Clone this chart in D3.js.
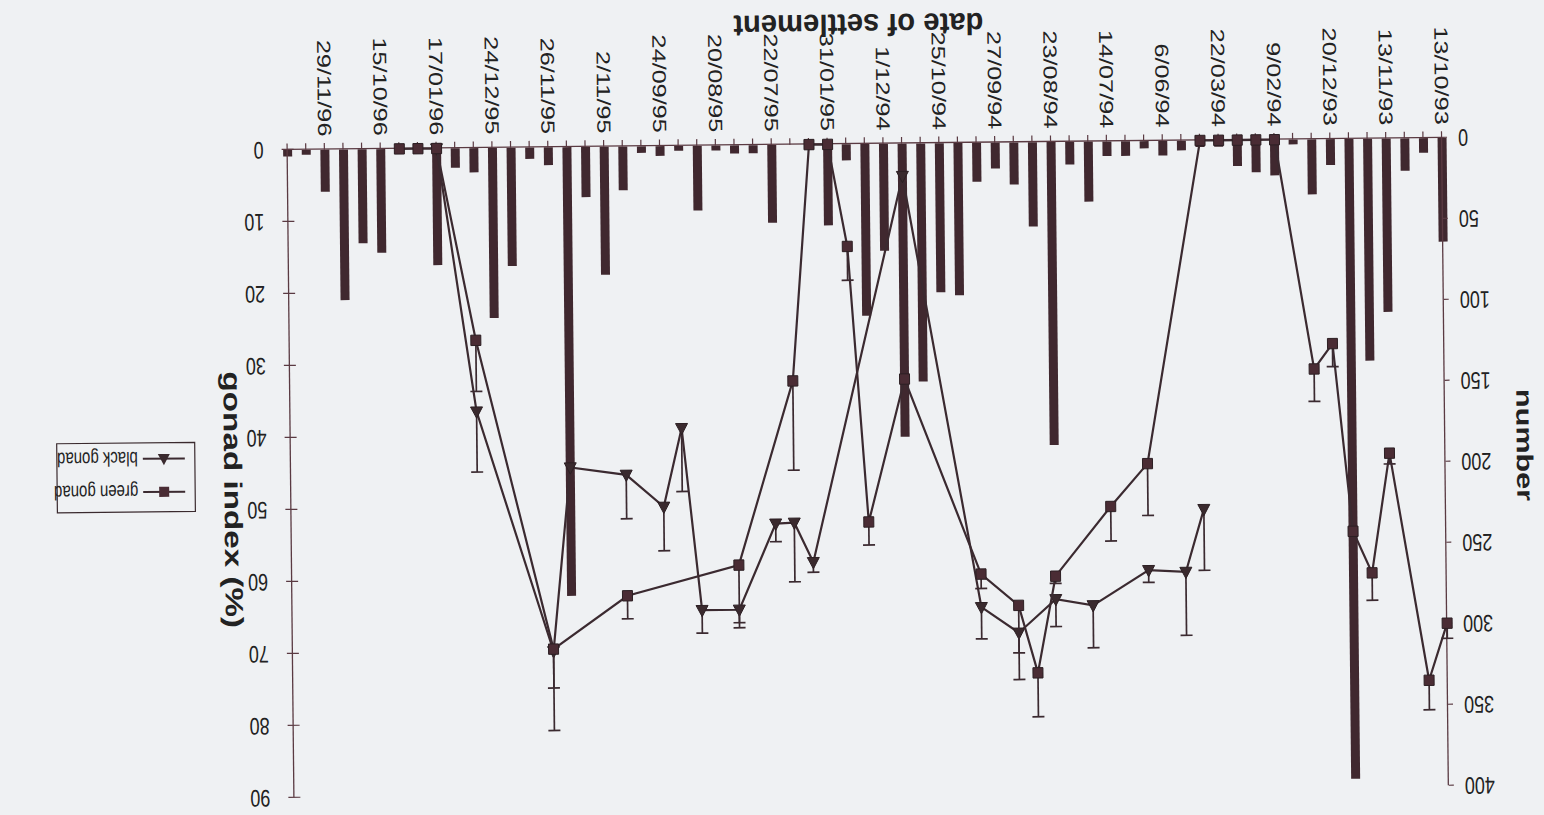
<!DOCTYPE html>
<html>
<head>
<meta charset="utf-8">
<script src="https://cdn.jsdelivr.net/npm/d3@7"></script>
<style>
  body { margin: 0; background: #eff1f3; }
  svg line, svg path, svg rect { vector-effect: non-scaling-stroke; }
  text { font-family: "Liberation Sans", Arial, sans-serif; fill: #222; }
</style>
</head>
<body>
<div id="chart"></div>
<script>
// ******************************** DATA ***************************************
// 63 sampling dates, only every third one is labelled on the axis
var dates = ["13/10/93","","","13/11/93","","","20/12/93","","","9/02/94","","",
  "22/03/94","","","6/06/94","","","14/07/94","","","23/08/94","","",
  "27/09/94","","","25/10/94","","","1/12/94","","","31/01/95","","",
  "22/07/95","","","20/08/95","","","24/09/95","","","2/11/95","","",
  "26/11/95","","","24/12/95","","","17/01/96","","","15/10/96","","",
  "29/11/96","",""];

// number settled (bars)
var numbers = [64, 9, 20, 107, 137, 395, 16, 34, 3, 22, 20, 16, 4, 4, 6, 9, 4.5, 9, 9, 37,
  14, 187, 52, 26, 16, 24, 94, 92, 147, 181, 66, 106, 10, 50, 3, 0, 48, 5, 5, 3,
  40, 3, 6, 4, 27, 79, 31, 277, 11, 7, 73, 105, 15, 12, 72, 3, 3, 64, 58, 93,
  26, 3, 4];

// green gonad index (%): [date index, value, + error]
var greenGonad = [[0, 67.4, 2.1], [1, 75.3, 4.1], [3, 43.7, 1.5], [4, 60.3, 3.8],
  [5, 54.5, 0], [6, 28.4, 3.2], [7, 31.9, 4.5], [9, 0, 0], [10, 0, 0], [11, 0, 0],
  [12, 0, 0], [13, 0, 0], [16, 44.8, 7.2], [18, 50.7, 4.8], [21, 60.3, 1], [22, 73.7, 6.1],
  [23, 64.3, 6.6], [25, 59.9, 2], [29, 32.7, 0], [31, 52.5, 3.2], [32, 14.2, 4.7],
  [33, 0, 0], [34, 0, 0], [35, 32.8, 12.4], [38, 58.3, 8], [44, 62.4, 3.2],
  [48, 69.7, 5.4], [52, 26.7, 7.1], [54, 0, 0], [55, 0, 0], [56, 0, 0]];

// black gonad index (%): [date index, value, + error]
var blackGonad = [[13, 51.2, 8.5], [14, 59.9, 8.8], [16, 59.6, 1.7], [19, 64.4, 5.9],
  [21, 63.5, 3.8], [23, 68.1, 6.5], [25, 64.5, 4.4], [29, 4.5, 0], [34, 58.0, 1.4],
  [35, 52.5, 8.2], [36, 52.6, 2.5], [38, 64.5, 2.5], [40, 64.5, 3.2], [41, 39.2, 8.8],
  [42, 50.1, 6.1], [44, 45.6, 6.1], [47, 44.5, 0], [48, 70.0, 11], [52, 36.6, 8.4],
  [54, 0, 0]];

var numberTicks = [0, 50, 100, 150, 200, 250, 300, 350, 400];
var gonadTicks = [0, 10, 20, 30, 40, 50, 60, 70, 80, 90];

// ***************************** CANVAS SET UP *********************************
var svgWidth = 1544, svgHeight = 815;
var stretch = 1.33; // the scan is taller than the original page

var plot = {left: 98.5, right: 1253, top: 17.3, bottom: 504.5};

var svg = d3.select("#chart").append("svg")
    .attr("width", svgWidth)
    .attr("height", svgHeight);

svg.append("rect")
    .attr("width", svgWidth)
    .attr("height", svgHeight)
    .attr("fill", "#eff1f3");

// the page was scanned upside down and slightly skewed
var chart = svg.append("g")
    .attr("transform", "rotate(-0.6, 866, 470)")
  .append("g")
    .attr("transform", `translate(${svgWidth}, ${svgHeight}) rotate(180) scale(1, ${stretch})`);

// ******************************** SCALES *************************************
var xScale = d3.scalePoint()
    .domain(d3.range(dates.length))
    .range([plot.left, plot.right]);

var yNumber = d3.scaleLinear()
    .domain([0, 400])
    .range([plot.bottom, plot.top]);

var yGonad = d3.scaleLinear()
    .domain([0, 90])
    .range([plot.bottom, plot.top]);

var ink = "#3b2a30";

// ********************************* BARS **************************************
chart.append("g").selectAll("rect")
    .data(numbers)
    .enter()
    .append("rect")
      .attr("x", (d, i) => xScale(i) - 4.5)
      .attr("y", d => yNumber(d))
      .attr("width", 9)
      .attr("height", d => plot.bottom - yNumber(d))
      .attr("fill", "#40282f");

// ********************************* AXES **************************************
var leftAxis = chart.append("g")
    .attr("transform", `translate(${plot.left}, 0)`)
    .call(d3.axisLeft(yNumber).tickValues(numberTicks).tickSizeInner(5).tickSizeOuter(0).tickPadding(11));

var rightAxis = chart.append("g")
    .attr("transform", `translate(${plot.right}, 0)`)
    .call(d3.axisRight(yGonad).tickValues(gonadTicks).tickSizeInner(6).tickSizeOuter(0).tickPadding(18));

// gonad ticks cross the axis
rightAxis.selectAll(".tick line").attr("x1", -6);

var bottomAxis = chart.append("g")
    .attr("transform", `translate(0, ${plot.bottom})`)
    .call(d3.axisBottom(xScale).tickSizeInner(5).tickSizeOuter(0).tickFormat(""));

[leftAxis, rightAxis, bottomAxis].forEach(function(ax) {
  ax.select(".domain").attr("stroke", "#5a3a42").attr("stroke-width", 1.3);
  ax.selectAll(".tick line").attr("stroke", "#5a3a42").attr("stroke-width", 1.2);
  ax.selectAll("text").attr("font-size", 18).attr("fill", "#222")
    .style("font-family", "'Liberation Sans', Arial, sans-serif");
});

// date labels, vertical
chart.append("g").selectAll("text")
    .data(dates.map((d, i) => ({label: d, i: i})).filter(d => d.label !== ""))
    .enter()
    .append("text")
      .attr("transform", d => `translate(${xScale(d.i)}, ${plot.bottom + 10}) rotate(-90)`)
      .attr("text-anchor", "end")
      .attr("dy", "0.35em")
      .attr("font-size", 19)
      .text(d => d.label);

// axis titles
chart.append("text")
    .attr("transform", "translate(19, 273) rotate(-90)")
    .attr("text-anchor", "middle")
    .attr("dy", "0.35em")
    .attr("font-size", 23)
    .attr("font-weight", "bold")
    .text("number");

chart.append("text")
    .attr("transform", "translate(1311, 242) rotate(-90)")
    .attr("text-anchor", "middle")
    .attr("dy", "0.35em")
    .attr("font-size", 25)
    .attr("font-weight", "bold")
    .text("gonad index (%)");

chart.append("text")
    .attr("x", 681)
    .attr("y", 602)
    .attr("text-anchor", "middle")
    .attr("font-size", 23)
    .attr("font-weight", "bold")
    .attr("textLength", 250)
    .attr("lengthAdjust", "spacingAndGlyphs")
    .text("date of settlement");

// ***************************** GONAD SERIES **********************************
var line = d3.line()
    .x(d => xScale(d[0]))
    .y(d => yGonad(d[1]));

function drawSeries(data, shape) {
  var g = chart.append("g");

  g.append("path")
      .datum(data)
      .attr("d", line)
      .attr("fill", "none")
      .attr("stroke", ink)
      .attr("stroke-width", 2.2);

  // plus error bars
  var err = g.selectAll(".err")
      .data(data.filter(d => d[2] > 0))
      .enter()
      .append("g");
  err.append("line")
      .attr("x1", d => xScale(d[0]))
      .attr("x2", d => xScale(d[0]))
      .attr("y1", d => yGonad(d[1]))
      .attr("y2", d => yGonad(d[1] + d[2]))
      .attr("stroke", ink)
      .attr("stroke-width", 1.7);
  err.append("line")
      .attr("x1", d => xScale(d[0]) - 6)
      .attr("x2", d => xScale(d[0]) + 6)
      .attr("y1", d => yGonad(d[1] + d[2]))
      .attr("y2", d => yGonad(d[1] + d[2]))
      .attr("stroke", ink)
      .attr("stroke-width", 1.7);

  if (shape === "square") {
    g.selectAll(".mark")
        .data(data)
        .enter()
        .append("rect")
          .attr("x", d => xScale(d[0]) - 5)
          .attr("y", d => yGonad(d[1]) - 3.9)
          .attr("width", 10)
          .attr("height", 7.8)
          .attr("fill", "#4a2c34")
          .attr("stroke", "#2c1f23")
          .attr("stroke-width", 1);
  } else {
    g.selectAll(".mark")
        .data(data)
        .enter()
        .append("path")
          .attr("d", d => {
            var x = xScale(d[0]), y = yGonad(d[1]);
            return `M${x},${y - 5}L${x + 6},${y + 3.5}L${x - 6},${y + 3.5}Z`;
          })
          .attr("fill", "#3a2a2e")
          .attr("stroke", "#2c1f23")
          .attr("stroke-width", 1);
  }
}

drawSeries(blackGonad, "triangle");
drawSeries(greenGonad, "square");

// ******************************** LEGEND *************************************
var legend = chart.append("g");
legend.append("rect")
    .attr("x", 1349)
    .attr("y", 233.5)
    .attr("width", 138)
    .attr("height", 52)
    .attr("fill", "none")
    .attr("stroke", "#3a2a2e")
    .attr("stroke-width", 1.2);

var legendRows = [["green gonad", "square", 248.5], ["black gonad", "triangle", 273.5]];
legendRows.forEach(function(r) {
  var y = r[2];
  legend.append("line")
      .attr("x1", 1359).attr("x2", 1401)
      .attr("y1", y).attr("y2", y)
      .attr("stroke", ink).attr("stroke-width", 2);
  if (r[1] === "square") {
    legend.append("rect")
        .attr("x", 1375).attr("y", y - 3.8)
        .attr("width", 10).attr("height", 7.6)
        .attr("fill", "#4a2c34");
  } else {
    legend.append("path")
        .attr("d", `M1380,${y - 5}L1386,${y + 3.5}L1374,${y + 3.5}Z`)
        .attr("fill", "#3a2a2e");
  }
  legend.append("text")
      .attr("x", 1406)
      .attr("y", y)
      .attr("dy", "0.35em")
      .attr("font-size", 15)
      .text(r[0]);
});
</script>
</body>
</html>
